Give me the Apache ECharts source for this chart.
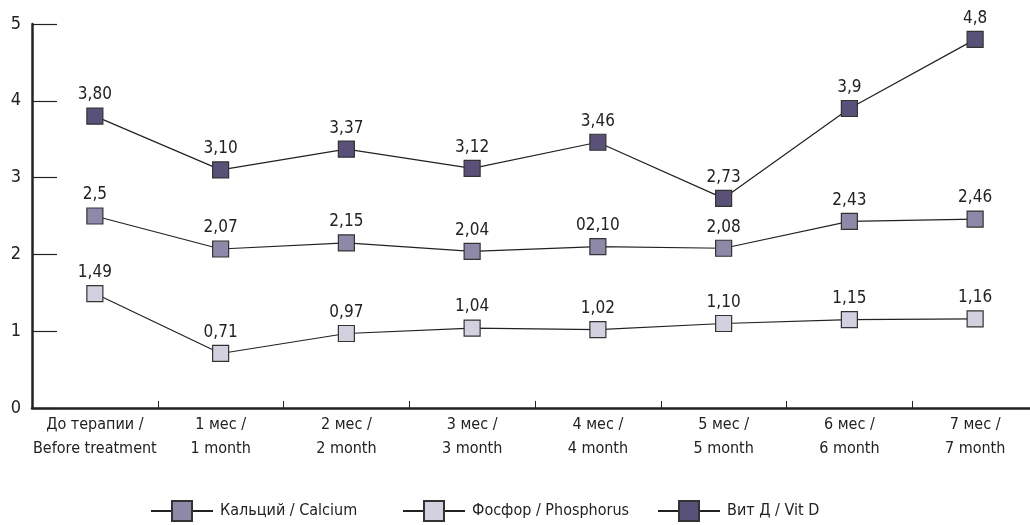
<!DOCTYPE html>
<html>
<head>
<meta charset="utf-8">
<script src="https://cdn.jsdelivr.net/npm/echarts@6/dist/echarts.min.js"></script>
<style>
  html, body { margin: 0; padding: 0; background: #fff; }
  #chart { width: 1030px; height: 525px; }
</style>
</head>
<body>
<div id="chart"></div>
<script>
// категории по оси X
const categories = ['До терапии /\nBefore treatment', '1 мес /\n1 month', '2 мес /\n2 month', '3 мес /\n3 month',
  '4 мес /\n4 month', '5 мес /\n5 month', '6 мес /\n6 month', '7 мес /\n7 month'];

const seriesNames = ['Кальций / Calcium', 'Фосфор / Phosphorus', 'Вит Д / Vit D'];

const calcium = [2.5, 2.07, 2.15, 2.04, 2.10, 2.08, 2.43, 2.46];
const phosphorus = [1.49, 0.71, 0.97, 1.04, 1.02, 1.10, 1.15, 1.16];
const vitD = [3.80, 3.10, 3.37, 3.12, 3.46, 2.73, 3.9, 4.8];

// подписи точек как в оригинале
const calciumLabels = ['2,5', '2,07', '2,15', '2,04', '02,10', '2,08', '2,43', '2,46'];
const phosphorusLabels = ['1,49', '0,71', '0,97', '1,04', '1,02', '1,10', '1,15', '1,16'];
const vitDLabels = ['3,80', '3,10', '3,37', '3,12', '3,46', '2,73', '3,9', '4,8'];

const yTicks = [0, 1, 2, 3, 4, 5];

const FONT = '"DejaVu Sans Condensed", "Liberation Sans", sans-serif';

let myChart = echarts.init(document.getElementById('chart'));

function makeSeries(name, data, labels, color) {
  return {
    name: name,
    type: 'line',
    data: data,
    symbol: 'rect',
    symbolSize: 16,
    lineStyle: { color: '#222', width: 1.2 },
    itemStyle: { color: color, borderColor: '#333', borderWidth: 1.2 },
    label: {
      show: true,
      position: 'top',
      distance: 4,
      color: '#222',
      fontFamily: FONT,
      fontSize: 17,
      formatter: p => labels[p.dataIndex]
    },
    emphasis: { disabled: true },
    animation: false
  };
}

// по одной легенде на серию, чтобы расставить как в оригинале
function makeLegend(name, left) {
  return {
    left: left,
    top: 495,
    itemWidth: 62,
    itemHeight: 25,
    itemGap: 0,
    selectedMode: false,
    textStyle: { color: '#222', fontFamily: FONT, fontSize: 16, padding: [0, 0, 0, 2] },
    data: [name]
  };
}

let option = {
  animation: false,
  textStyle: { fontFamily: FONT },
  grid: {
    left: 32,
    top: 24,
    width: 1006,
    height: 384,
    outerBoundsMode: 'none'
  },
  legend: [
    makeLegend(seriesNames[0], 145),
    makeLegend(seriesNames[1], 397),
    makeLegend(seriesNames[2], 652)
  ],
  xAxis: {
    type: 'category',
    data: categories,
    axisLine: { lineStyle: { color: '#222', width: 2.5 } },
    axisTick: { show: true, inside: true, length: 7, lineStyle: { color: '#222', width: 1 } },
    axisLabel: {
      color: '#222',
      fontFamily: FONT,
      fontSize: 16,
      lineHeight: 24,
      margin: 5,
      interval: 0
    },
    splitLine: { show: false }
  },
  yAxis: {
    type: 'value',
    min: yTicks[0],
    max: yTicks[yTicks.length - 1],
    interval: 1,
    axisLine: { show: true, lineStyle: { color: '#222', width: 2.5 } },
    axisTick: { show: true, inside: true, length: 25, lineStyle: { color: '#222', width: 1.2 } },
    axisLabel: {
      color: '#222',
      fontFamily: FONT,
      fontSize: 18,
      margin: 11,
      formatter: v => yTicks.includes(v) ? String(v) : ''
    },
    splitLine: { show: false }
  },
  series: [
    makeSeries(seriesNames[0], calcium, calciumLabels, '#8e89a8'),
    makeSeries(seriesNames[1], phosphorus, phosphorusLabels, '#d3d1e0'),
    makeSeries(seriesNames[2], vitD, vitDLabels, '#5a5178')
  ]
};
myChart.setOption(option);
</script>
</body>
</html>
